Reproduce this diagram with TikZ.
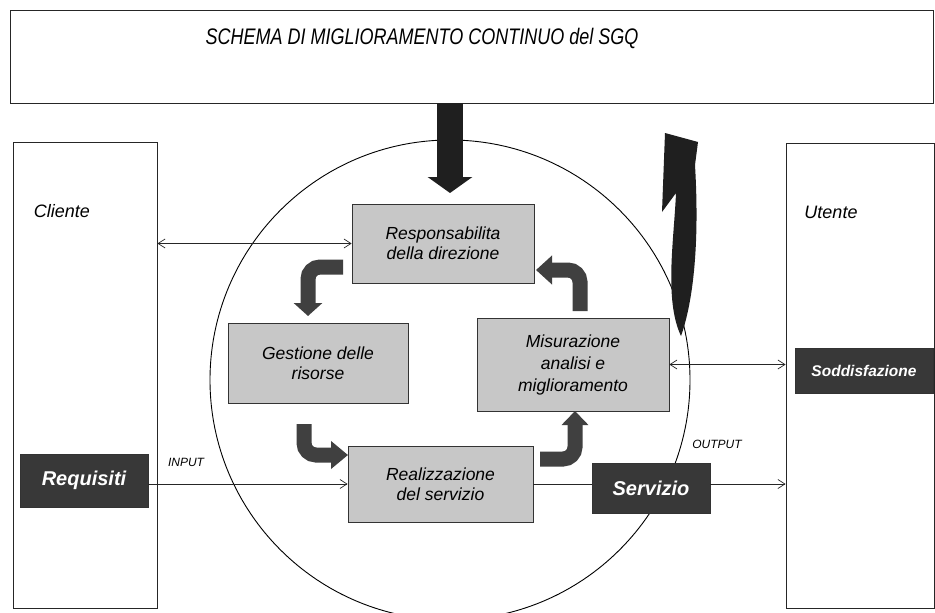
\documentclass[tikz,border=0pt]{standalone}
\usepackage{fontspec}
\setmainfont{Liberation Sans}
\newfontfamily\titlefont[FakeStretch=0.8]{Liberation Sans}
\usetikzlibrary{arrows.meta}
\begin{document}
\begin{tikzpicture}[x=1pt,y=-1pt,
  outerbox/.style={draw=black!85, line width=0.9pt, inner sep=0pt},
  procbox/.style={draw=black!80, line width=0.8pt, fill=black!22, inner sep=0pt, align=center, font=\fontsize{17.5}{20}\selectfont\itshape},
  darkbox/.style={draw=black!80, fill=black!78, text=white, inner sep=0pt, font=\fontsize{20}{22}\selectfont\bfseries\itshape},
  conn/.style={line width=0.7pt, draw=black!85},
  arrowend/.style={-{Straight Barb[length=7pt,width=9pt]}},
  bothends/.style={{Straight Barb[length=7pt,width=9pt]}-{Straight Barb[length=7pt,width=9pt]}},
  flowarr/.style={line width=15pt, draw=black!75, rounded corners=12pt},
  lbl/.style={font=\fontsize{18}{20}\selectfont\itshape, inner sep=0pt},
  smalllbl/.style={font=\fontsize{12}{14}\selectfont\itshape, inner sep=0pt}
]
\useasboundingbox (0,0) rectangle (935,613);
\fill[white] (0,0) rectangle (935,613);
\begin{scope}
\clip (0,0) rectangle (935,613);
% title frame
\node[outerbox, minimum width=923pt, minimum height=93pt] (titlebox) at (471.5,56.5) {};
\node[inner sep=0pt, font=\titlefont\itshape\fontsize{22.5}{24}\selectfont] (title) at (422,38) {SCHEMA DI MIGLIORAMENTO CONTINUO del SGQ};
% side frames
\node[outerbox, minimum width=144pt, minimum height=466pt] (clientebox) at (85,375) {};
\node[outerbox, minimum width=148pt, minimum height=465pt] (utentebox) at (860,375.5) {};
\node[lbl] (cliente) at (62,211) {Cliente};
\node[lbl] (utente) at (831,212) {Utente};
% circle
\draw[line width=0.9pt] (450,380) circle [radius=240pt];
% process boxes
\node[procbox, minimum width=182pt, minimum height=79pt] (resp) at (443,243.5) {Responsabilita\\della direzione};
\node[procbox, minimum width=180pt, minimum height=80pt] (gest) at (318,363) {Gestione delle\\risorse};
\node[procbox, minimum width=192pt, minimum height=93pt, font=\fontsize{17.5}{22}\selectfont\itshape] (misu) at (573,364.5) {Misurazione\\analisi e\\miglioramento};
\node[procbox, minimum width=185pt, minimum height=76pt] (real) at (440.5,484) {Realizzazione\\del servizio};
% dark boxes
\node[darkbox, minimum width=118pt, minimum height=50pt] (serv) at (651,488) {Servizio};
\node[darkbox, minimum width=128pt, minimum height=53pt] (requ) at (84,480.5) {Requisiti};
\node[darkbox, minimum width=138pt, minimum height=45pt, font=\fontsize{15.5}{18}\selectfont\bfseries\itshape] (sodd) at (864,370.5) {Soddisfazione};
% small labels
\node[smalllbl] (input) at (186,462) {INPUT};
\node[smalllbl] (output) at (717,444) {OUTPUT};
% thin connectors
\draw[conn, bothends] (resp.west -| clientebox.east) -- (resp.west);
\draw[conn, bothends] (misu.east) -- (misu.east -| utentebox.west);
\draw[conn, arrowend] (requ.east |- real.west) -- (real.west);
\draw[conn] (real.east) -- (real.east -| serv.west);
\draw[conn, arrowend] (real.east -| serv.east) -- (real.east -| utentebox.west);
% thick flow arrows
\coordinate (a1) at (343,267);
\coordinate (a2) at (308,316);
\draw[flowarr, -{Triangle[length=13pt,width=28pt]}] (a1) -- (a2 |- a1) -- (a2);
\coordinate (b1) at (304,424);
\coordinate (b2) at (348,455);
\draw[flowarr, -{Triangle[length=17pt,width=27pt]}] (b1) -- (b1 |- b2) -- (b2);
\coordinate (c1) at (540,459);
\coordinate (c2) at (575,411);
\draw[flowarr, -{Triangle[length=14pt,width=26pt]}] (c1) -- (c2 |- c1) -- (c2);
\coordinate (d1) at (580,311);
\coordinate (d2) at (536,270);
\draw[flowarr, -{Triangle[length=16pt,width=28pt]}] (d1) -- (d1 |- d2) -- (d2);
% big input arrow from top
\coordinate (t1) at (450,103);
\coordinate (t2) at (450,193);
\draw[line width=26pt, draw=black!88, -{Triangle[length=16pt,width=44pt]}] (t1) -- (t2);
% big curved return arrow
\fill[black!88] (681,336) .. controls (692,305) and (700,250) .. (695,165) -- (698,142) -- (665,133) -- (662,212) -- (676,193) .. controls (674,240) and (664,300) .. (681,336) -- cycle;
\end{scope}
\end{tikzpicture}
\end{document}
